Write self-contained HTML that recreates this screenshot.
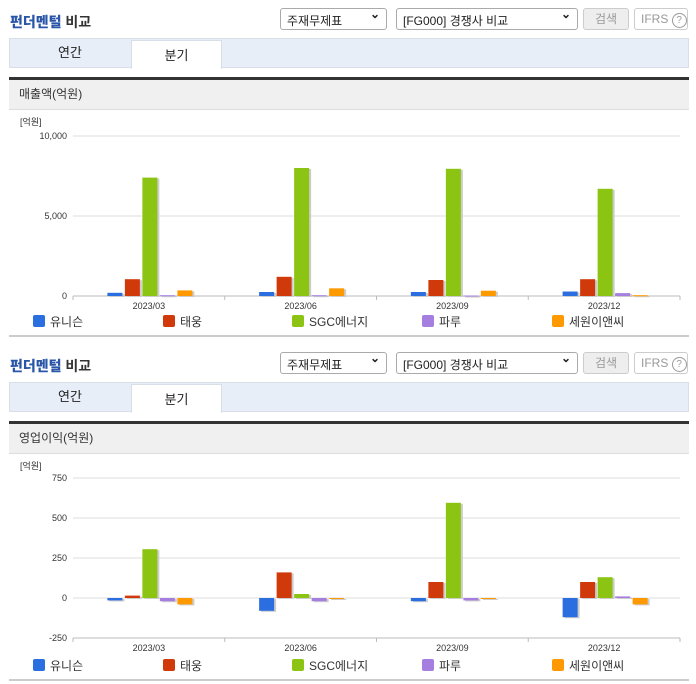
<!DOCTYPE html>
<html><head><meta charset="utf-8">
<style>
body{margin:0;width:696px;height:684px;background:#fff;font-family:"Liberation Sans","Noto Sans CJK KR",sans-serif;position:relative;overflow:hidden}
.abs{position:absolute}
.title{font-size:14px;font-weight:bold;color:#333}
.title b{color:#2a56a8}
.sel{border:1px solid #aaa;border-radius:3px;height:22px;font-size:12px;color:#222;box-sizing:border-box;padding:3px 6px;background:#fff}
.sel::after{content:"⌄";position:absolute;right:6px;top:-2px;font-weight:bold}
.btn{border:1px solid #ccc;border-radius:3px;height:22px;box-sizing:border-box;font-size:12px;color:#999;text-align:center;line-height:20px}
.tabbar{background:#e8eef8;border:1px solid #d8dfe9;box-sizing:border-box;height:30px}
.tab{font-size:13px;color:#222;text-align:center;line-height:29px;height:30px;box-sizing:border-box}
.hdr{background:#f0f0f0;border-top:3px solid #333;border-bottom:1px solid #ddd;font-size:12px;color:#333;box-sizing:border-box;padding-left:10px;line-height:28px}
</style></head><body>
<div id="root"></div>
<script>
const categories=["2023/03","2023/06","2023/09","2023/12"];
const seriesNames=["유니슨","태웅","SGC에너지","파루","세원이앤씨"];
const colors=["#2a6ee0","#d03a0a","#8cc414","#a57ee0","#ff9900"];
const sales0=[200,250,250,280];
const sales1=[1050,1200,1000,1050];
const sales2=[7400,8000,7950,6700];
const sales3=[50,50,30,180];
const sales4=[350,480,330,50];
const salesTicks=[0,5000,10000];
const salesTickLabels=["0","5,000","10,000"];
const op0=[-15,-80,-20,-120];
const op1=[15,160,100,100];
const op2=[305,25,595,130];
const op3=[-20,-20,-15,10];
const op4=[-40,0,0,-40];
const opTicks=[-250,0,250,500,750];
const opTickLabels=["-250","0","250","500","750"];

const root=document.getElementById('root');
function mk(tag,cls,name,inter,style,txt){const e=document.createElement(tag);if(cls)e.className=cls;


if(style)e.style.cssText=style;if(txt!==undefined)e.innerHTML=txt;root.appendChild(e);return e;}

function panel(off,hdrText,series,ticks,tickLabels,yMin,yMax,yTopPx,yBotPx,pfx){
  mk('div','abs title',pfx+'-title','false',`left:10px;top:${off+12}px`,'<b>펀더멘털</b> 비교');
  mk('div','abs sel',pfx+'-statement-select','true',`left:280px;top:${off+8}px;width:107px`,'주재무제표');
  mk('div','abs sel',pfx+'-compare-select','true',`left:396px;top:${off+8}px;width:182px`,'[FG000] 경쟁사 비교');
  mk('div','abs btn',pfx+'-search-button','true',`left:583px;top:${off+8}px;width:46px;background:#eee`,'검색');
  mk('div','abs btn',pfx+'-ifrs-button','true',`left:634px;top:${off+8}px;width:54px;text-align:left;padding-left:6px`,'IFRS <span style="display:inline-block;width:13px;height:13px;border:1px solid #999;border-radius:50%;font-size:10px;line-height:13px;text-align:center">?</span>');
  mk('div','abs tabbar',pfx+'-tab-bar','false',`left:9px;top:${off+38}px;width:680px`);
  mk('div','abs tab',pfx+'-tab-annual','true',`left:9px;top:${off+38}px;width:122px`,'연간');
  mk('div','abs tab',pfx+'-tab-quarter','true',`left:131px;top:${off+40}px;width:91px;background:#fff;border:1px solid #d8dfe9;border-bottom:none;height:29px`,'분기');
  mk('div','abs hdr',pfx+'-section-header','false',`left:9px;top:${off+77}px;width:680px;height:33px`,hdrText);
  mk('div','abs',pfx+'-bottom-border','false',`left:9px;top:${off+335}px;width:680px;height:2px;background:#ccc`);
  const NS='http://www.w3.org/2000/svg';
  const svg=document.createElementNS(NS,'svg');
  svg.setAttribute('width','696');svg.setAttribute('height','200');
  svg.style.cssText=`position:absolute;left:0;top:${off+110}px`;
  
  
  root.appendChild(svg);
  const X0=73,X1=680,gw=(X1-X0)/categories.length;
  // returns y within svg
  const y=v=>(yBotPx-110)-(v-yMin)/(yMax-yMin)*(yBotPx-yTopPx);
  function el(t,a,name){const e=document.createElementNS(NS,t);for(const k in a)e.setAttribute(k,a[k]);
    
    
    svg.appendChild(e);return e;}
  const u=el('text',{x:20,y:15,'font-size':9,fill:'#333'},'unit-label');u.textContent='[억원]';
  ticks.forEach((t,i)=>{
    const yy=y(t);
    if(i>0) el('line',{x1:X0,x2:X1,y1:yy,y2:yy,stroke:'#ddd'},'gridline');
    const tx=el('text',{x:67,y:yy+3,'font-size':9,fill:'#333','text-anchor':'end'},'y-tick-label');tx.textContent=tickLabels[i];
  });
  const by=yBotPx-110;
  el('line',{x1:X0,x2:X1,y1:by,y2:by,stroke:'#bbb'},'x-axis');
  for(let i=0;i<=categories.length;i++){const xx=X0+i*gw;el('line',{x1:xx,x2:xx,y1:by,y2:by+4,stroke:'#bbb'},'x-tick');}
  categories.forEach((c,ci)=>{
    const cx=X0+gw*(ci+0.5)+1;
    series.forEach((s,si)=>{
      const v=s[ci];const bx=cx+(si-2)*17.5-7.5;
      const ty=y(Math.max(v,0)),h=Math.max(Math.abs(y(v)-y(0)),1);
      el('rect',{x:bx+2,y:ty+1,width:15,height:h,fill:'#ccc'},'bar-shadow');
      el('rect',{x:bx,y:ty,width:15,height:h,fill:colors[si]},'bar-'+c+'-'+si);
    });
    const lb=el('text',{x:X0+gw*(ci+0.5),y:by+13,'font-size':9,fill:'#333','text-anchor':'middle'},'x-tick-label');lb.textContent=c;
  });
  const lx=[33,163,292,422,552];
  seriesNames.forEach((n,i)=>{
    mk('div','abs','legend-swatch-'+i,'true',`left:${lx[i]}px;top:${off+315}px;width:12px;height:12px;background:${colors[i]};border-radius:2px`);
    mk('div','abs','legend-label-'+i,'true',`left:${lx[i]+17}px;top:${off+313}px;font-size:12px;color:#333`,n);
  });
}
panel(0,'매출액(억원)',[sales0,sales1,sales2,sales3,sales4],salesTicks,salesTickLabels,0,10000,136,296,'sales');
panel(344,'영업이익(억원)',[op0,op1,op2,op3,op4],opTicks,opTickLabels,-250,750,134,294,'op');
</script>
</body></html>
